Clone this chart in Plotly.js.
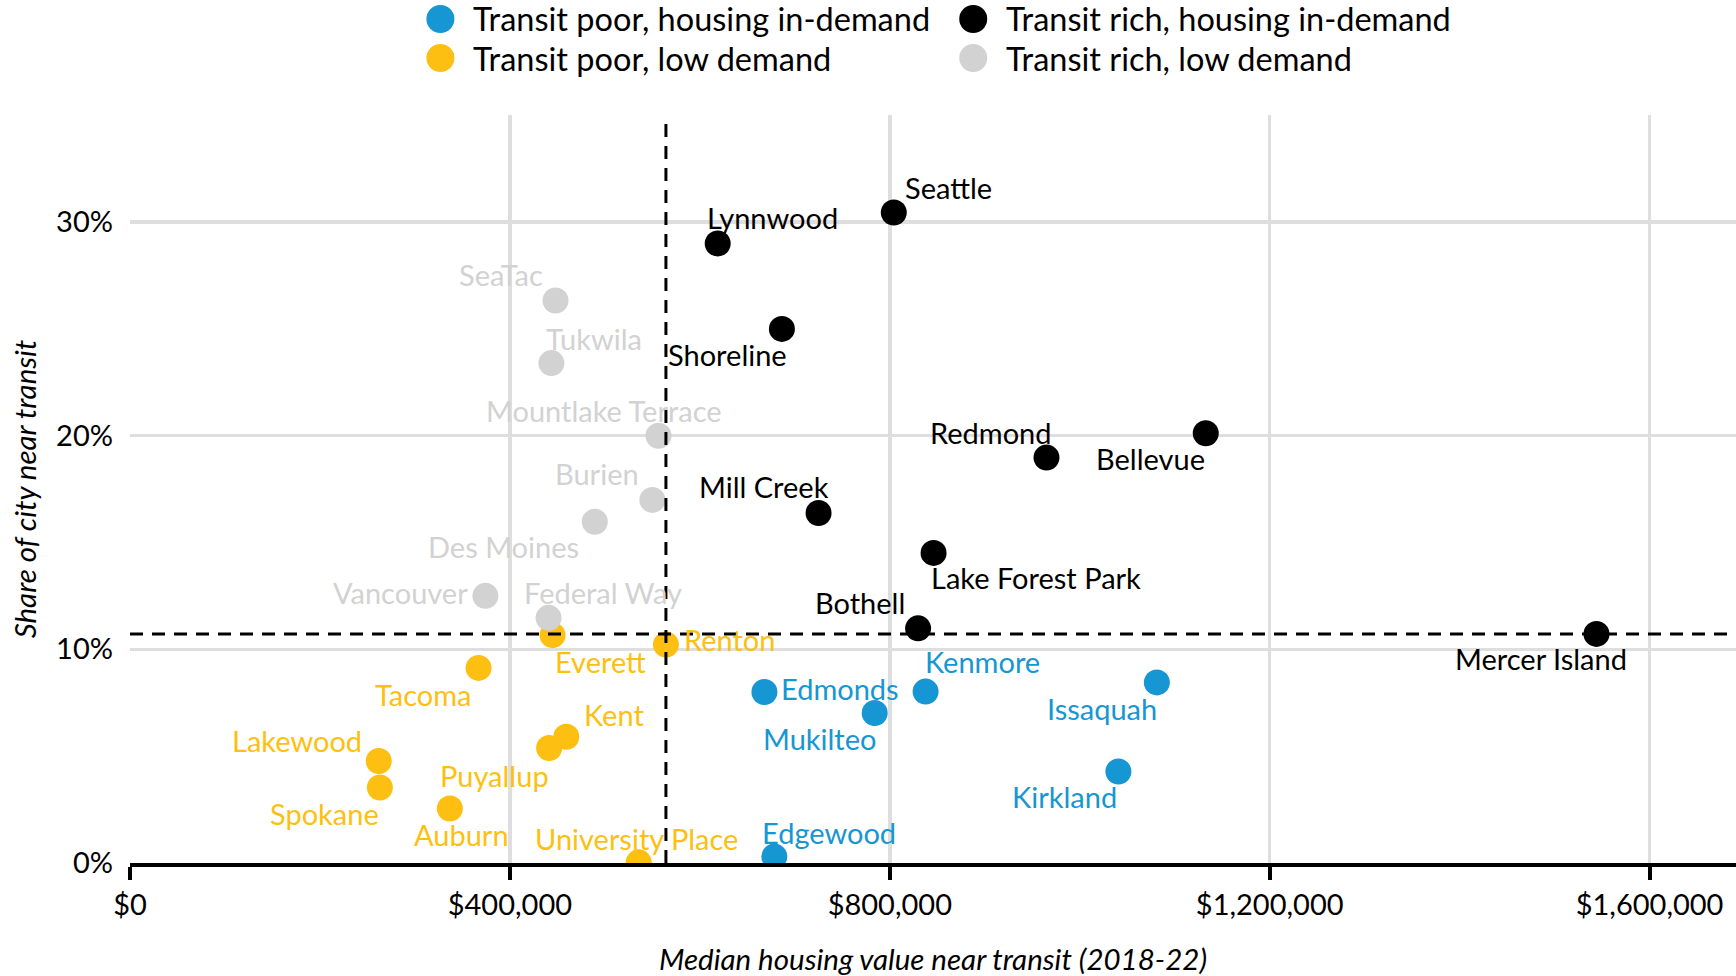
<!DOCTYPE html>
<html>
<head>
<meta charset="utf-8">
<script src="https://cdn.plot.ly/plotly-3.0.1.min.js"></script>
<style>
html,body{margin:0;padding:0;background:#fff;}
#chart{width:1736px;height:976px;}
</style>
</head>
<body>
<div id="chart"></div>
<script>
// ---------------- DATA ----------------
const groupNames = [
  "Transit poor, housing in-demand",
  "Transit rich, housing in-demand",
  "Transit poor, low demand",
  "Transit rich, low demand"
];

const poorDemandCities = ["Edmonds","Kenmore","Mukilteo","Issaquah","Kirkland","Edgewood"];
const poorDemandValue  = [668000, 837700, 784100, 1081200, 1040700, 678400];
const poorDemandShare  = [0.0800, 0.0802, 0.0702, 0.0845, 0.0428, 0.0030];

const richDemandCities = ["Seattle","Lynnwood","Shoreline","Redmond","Bellevue","Mill Creek","Lake Forest Park","Bothell","Mercer Island"];
const richDemandValue  = [804200, 618800, 686400, 965000, 1132700, 725000, 846100, 829800, 1544100];
const richDemandShare  = [0.3044, 0.2899, 0.2499, 0.1897, 0.2011, 0.1638, 0.1451, 0.1098, 0.1072];

const poorLowCities = ["Everett","Renton","Tacoma","Kent","Puyallup","Lakewood","Spokane","Auburn","University Place"];
const poorLowValue  = [444900, 564300, 367000, 459400, 441300, 261900, 263100, 336800, 535600];
const poorLowShare  = [0.1066, 0.1022, 0.0913, 0.0591, 0.0538, 0.0477, 0.0353, 0.0255, 0.0003];

const richLowCities = ["SeaTac","Tukwila","Mountlake Terrace","Burien","Des Moines","Vancouver","Federal Way"];
const richLowValue  = [448000, 443700, 556500, 550000, 489400, 374200, 440700];
const richLowShare  = [0.2632, 0.2339, 0.1999, 0.1699, 0.1597, 0.1250, 0.1147];

const xTickValues = [0, 400000, 800000, 1200000, 1600000];
const yTickValues = [0, 0.10, 0.20, 0.30];

// ---------------- STYLE / LAYOUT ----------------
const groupColors = ["#1696d2", "#000000", "#fdbf11", "#d2d2d2"];
const FONT = "Lato, 'Open Sans', sans-serif";

// label offsets in pixels (dx right, dy down) relative to the point
const labelOffsets = {
  "Seattle":[55,-25], "Lynnwood":[55,-26], "Shoreline":[-54,26], "Redmond":[-55,-25],
  "Bellevue":[-55,25], "Mill Creek":[-55,-26], "Lake Forest Park":[102,25], "Bothell":[-58,-26],
  "Mercer Island":[-55,25],
  "Edmonds":[76,-4], "Kenmore":[57,-30], "Mukilteo":[-55,26], "Issaquah":[-55,26],
  "Kirkland":[-54,25], "Edgewood":[55,-24],
  "Renton":[64,-5], "Everett":[48,26], "Tacoma":[-55,27], "Kent":[48,-22], "Lakewood":[-82,-21],
  "Puyallup":[-55,27], "Spokane":[-55,26], "Auburn":[12,26], "University Place":[-2,-24],
  "SeaTac":[-54,-26], "Tukwila":[43,-25], "Mountlake Terrace":[-55,-25], "Burien":[-55,-26],
  "Des Moines":[-91,25], "Vancouver":[-85,-3], "Federal Way":[54,-25]
};

const groups = [
  [poorDemandCities, poorDemandValue, poorDemandShare],
  [richDemandCities, richDemandValue, richDemandShare],
  [poorLowCities, poorLowValue, poorLowShare],
  [richLowCities, richLowValue, richLowShare]
];

const W = 1736, H = 976;
const M = {l:129.5, r:0, t:115, b:113};
const plotW = W - M.l - M.r, plotH = H - M.t - M.b;
const px2paperX = px => (px - M.l) / plotW;
const px2paperY = py => (H - M.b - py) / plotH;

function median(arr){
  const s = arr.slice().sort((a,b)=>a-b);
  const n = s.length;
  return n % 2 ? s[(n-1)/2] : (s[n/2-1]+s[n/2])/2;
}
const allX = [].concat(poorDemandValue, richDemandValue, poorLowValue, richLowValue);
const allY = [].concat(poorDemandShare, richDemandShare, poorLowShare, richLowShare);
const medX = median(allX), medY = median(allY);

const traces = groups.map((g, i) => ({
  type: "scatter",
  mode: "markers",
  name: groupNames[i],
  x: g[1], y: g[2], text: g[0],
  marker: {color: groupColors[i], size: 26, line: {width: 0}},
  showlegend: false,
  cliponaxis: true,
  hovertemplate: "%{text}<extra></extra>"
}));

const annotations = [];
groups.forEach((g, i) => {
  g[0].forEach((name, j) => {
    const off = labelOffsets[name] || [0, -25];
    annotations.push({
      xref: "x", yref: "y", x: g[1][j], y: g[2][j],
      text: name, showarrow: false,
      xanchor: "center", yanchor: "middle",
      xshift: off[0], yshift: -off[1],
      font: {family: FONT, size: 29, color: groupColors[i]}
    });
  });
});

// manual legend
const shapes = [];
const legendCols = [440, 973];
const legendRows = [19, 58];
const legendOrder = [[0, 0, 0], [1, 1, 0], [2, 0, 1], [3, 1, 1]];
legendOrder.forEach(([gi, col, row]) => {
  const cx = legendCols[col], cy = legendRows[row];
  shapes.push({
    type: "circle", xref: "paper", yref: "paper",
    xsizemode: "pixel", ysizemode: "pixel",
    xanchor: px2paperX(cx), yanchor: px2paperY(cy),
    x0: -14, x1: 14, y0: -14, y1: 14,
    fillcolor: groupColors[gi], line: {width: 0}, layer: "above"
  });
  annotations.push({
    xref: "paper", yref: "paper", x: px2paperX(cx + 31), y: px2paperY(cy),
    xanchor: "left", yanchor: "middle", showarrow: false,
    text: groupNames[gi],
    font: {family: FONT, size: 32.5, color: "#000000"}
  });
});

// median dashed lines
shapes.push({
  type: "line", xref: "x", yref: "paper", x0: medX, x1: medX, y0: 0, y1: 0.99,
  line: {color: "#000000", width: 3, dash: "13px,9px"}, layer: "above"
});
shapes.push({
  type: "line", xref: "paper", yref: "y", x0: 0, x1: 1, y0: medY, y1: medY,
  line: {color: "#000000", width: 3, dash: "13px,9px"}, layer: "above"
});

const layout = {
  width: W, height: H,
  margin: M,
  paper_bgcolor: "#ffffff", plot_bgcolor: "#ffffff",
  font: {family: FONT, color: "#000000"},
  showlegend: false,
  xaxis: {
    range: [0, 1691000],
    tickvals: xTickValues,
    tickformat: "$,.0f",
    tickfont: {family: FONT, size: 29, color: "#000000"},
    showgrid: true, gridcolor: "#dedede", gridwidth: 3.5,
    zeroline: false,
    showline: true, linecolor: "#000000", linewidth: 4,
    ticks: "outside", ticklen: 13, tickwidth: 4, tickcolor: "#000000",
    title: {text: "Median housing value near transit (2018-22)", standoff: 32,
            font: {family: FONT, size: 29.5, color: "#000000", style: "italic"}},
    fixedrange: true
  },
  yaxis: {
    range: [0, 0.35],
    tickvals: yTickValues,
    tickformat: ".0%",
    tickfont: {family: FONT, size: 29, color: "#000000"},
    showgrid: true, gridcolor: "#dedede", gridwidth: 3.5,
    zeroline: false, showline: false, ticks: "",
    ticklabelstandoff: 16,
    title: {text: "Share of city near transit", standoff: 10,
            font: {family: FONT, size: 29.5, color: "#000000", style: "italic"}},
    fixedrange: true
  },
  shapes: shapes,
  annotations: annotations
};

Plotly.newPlot("chart", traces, layout, {displayModeBar: false, staticPlot: true});
</script>
</body>
</html>
